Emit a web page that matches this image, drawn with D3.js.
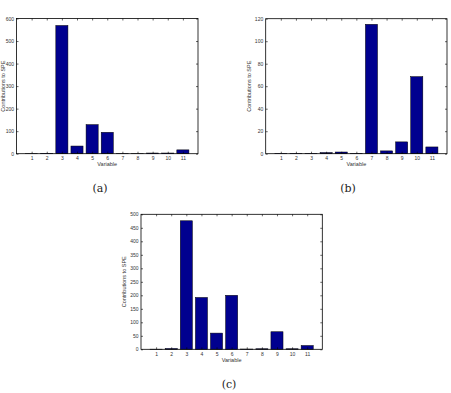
<!DOCTYPE html>
<html>
<head>
<meta charset="utf-8">
<script src="https://cdn.jsdelivr.net/npm/d3@7"></script>
<style>
  body { margin: 0; background: #fff; }
  svg { display: block; }
  .tick text { font-family: "Liberation Sans", Arial, sans-serif; font-size: 5px; fill: #333; }
  .lbl { font-family: "Liberation Sans", Arial, sans-serif; font-size: 5.5px; fill: #333; }
  .cap { font-family: "DejaVu Serif", "Liberation Serif", serif; font-size: 11px; fill: #222; }
</style>
</head>
<body>
<script>
// variables on x axis
var variables = [1, 2, 3, 4, 5, 6, 7, 8, 9, 10, 11];

// contributions to SPE, one array per panel
var speA = [0.5, 2, 569, 34, 129, 95, 1, 0.5, 3, 3, 17];
var speB = [0.3, 0.3, 0.3, 1, 1.5, 0.3, 115, 2.5, 10.5, 68.5, 6];
var speC = [0.5, 3, 476, 192, 60, 200, 1, 2, 65, 2, 14];

var yTicksA = d3.range(0, 601, 100);
var yTicksB = d3.range(0, 121, 20);
var yTicksC = d3.range(0, 501, 50);

var captions = ["(a)", "(b)", "(c)"];

var svg = d3.select("body").append("svg")
    .attr("width", 451)
    .attr("height", 393);

function drawPanel(values, yTicks, box, caption, capPos, ylabOff) {
  var w = box.right - box.left;
  var h = box.bottom - box.top;
  var g = svg.append("g").attr("transform", "translate(" + box.left + "," + box.top + ")");

  var x = d3.scaleLinear().domain([0, 12]).range([0, w]);
  var y = d3.scaleLinear().domain([0, yTicks[yTicks.length - 1]]).range([h, 0]);

  // bars
  g.selectAll("rect.bar")
    .data(values)
    .enter().append("rect")
    .attr("class", "bar")
    .attr("x", (d, i) => x(variables[i] - 0.4))
    .attr("width", x(0.8) - x(0))
    .attr("y", d => y(d))
    .attr("height", d => h - y(d))
    .attr("fill", "#00008f")
    .attr("stroke", "#000")
    .attr("stroke-width", 0.5);

  // axes, ticks pointing inward like matlab
  var bottom = g.append("g")
      .attr("transform", "translate(0," + h + ")")
      .call(d3.axisBottom(x).tickValues(variables).tickSizeInner(-2).tickSizeOuter(0).tickPadding(3));
  var top = g.append("g")
      .call(d3.axisTop(x).tickValues(variables).tickSizeInner(-2).tickSizeOuter(0).tickFormat(""));
  var left = g.append("g")
      .call(d3.axisLeft(y).tickValues(yTicks).tickSizeInner(-2).tickSizeOuter(0).tickPadding(2.5));
  var right = g.append("g")
      .attr("transform", "translate(" + w + ",0)")
      .call(d3.axisRight(y).tickValues(yTicks).tickSizeInner(-2).tickSizeOuter(0).tickFormat(""));

  [bottom, top, left, right].forEach(function (a) {
    a.select(".domain").remove();
    a.selectAll(".tick line").attr("stroke", "#000").attr("stroke-width", 0.6);
  });

  g.append("rect")
    .attr("width", w)
    .attr("height", h)
    .attr("fill", "none")
    .attr("stroke", "#000")
    .attr("stroke-width", 0.8);

  // axis titles
  g.append("text")
    .attr("class", "lbl")
    .attr("x", w / 2)
    .attr("y", h + 12.5)
    .attr("text-anchor", "middle")
    .text("Variable");

  g.append("text")
    .attr("class", "lbl")
    .attr("transform", "translate(" + ylabOff + "," + (h / 2) + ") rotate(-90)")
    .attr("text-anchor", "middle")
    .text("Contributions to SPE");

  svg.append("text")
    .attr("class", "cap")
    .attr("x", capPos[0])
    .attr("y", capPos[1])
    .attr("text-anchor", "middle")
    .text(caption);
}

drawPanel(speA, yTicksA, {left: 16.5, right: 198, top: 18.5, bottom: 153.7}, captions[0], [100, 192], -12);
drawPanel(speB, yTicksB, {left: 265.7, right: 447, top: 18.7, bottom: 153.7}, captions[1], [348, 192], -15);
drawPanel(speC, yTicksC, {left: 141, right: 322.3, top: 214.3, bottom: 349.3}, captions[2], [229, 388], -15);
</script>
</body>
</html>
